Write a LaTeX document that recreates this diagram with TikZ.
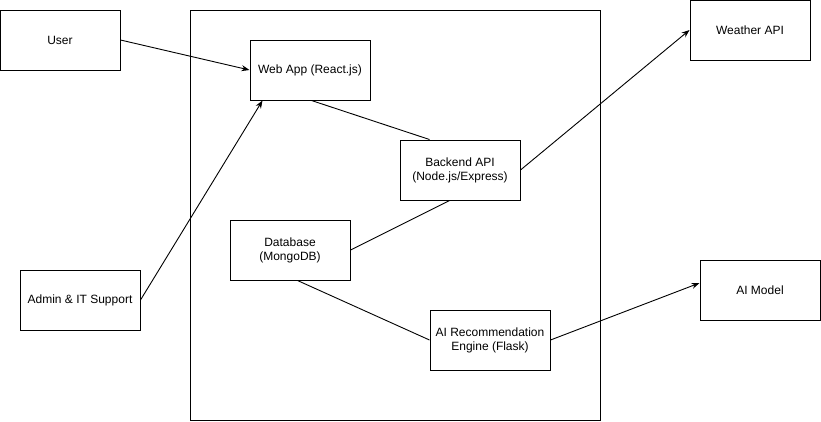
\documentclass[tikz,border=0pt]{standalone}
\usepackage{fontspec}
\setmainfont{Liberation Sans}
\usetikzlibrary{arrows.meta}
\tikzset{
  box/.style={draw=black, line width=1pt, fill=white, minimum width=120pt, minimum height=60pt, inner sep=0pt, align=center, font=\fontsize{12pt}{14pt}\selectfont},
  link/.style={draw=black, line width=0.9pt},
  arr/.style={link, -{Stealth[length=8pt,width=6pt]}}
}
\begin{document}
\begin{tikzpicture}[x=1pt,y=-1pt]
\useasboundingbox (0,0) rectangle (821,421);
\node[draw=black, line width=1pt, minimum width=410pt, minimum height=410pt, inner sep=0pt] (sys) at (395,215) {};
\node[box] (user) at (60,40) {User};
\node[box] (web) at (310,70) {Web App (React.js)};
\node[box] (weather) at (750,30) {Weather API};
\node[box] (back) at (460,170) {Backend API\\(Node.js/Express)};
\node[box] (db) at (290,250) {Database\\(MongoDB)};
\node[box] (admin) at (80,300) {Admin \& IT Support};
\node[box] (airec) at (490,340) {AI Recommendation\\Engine (Flask)};
\node[box] (aimodel) at (760,290) {AI Model};
\draw[arr] (user.east) -- (web.west);
\draw[arr] (admin.east) -- ([xshift=13pt]web.south west);
\draw[link] ([xshift=62pt]web.south west) -- ([xshift=30pt]back.north west);
\draw[arr] (back.east) -- (weather.west);
\draw[link] (db.east) -- ([xshift=50pt]back.south west);
\draw[link] ([xshift=68pt]db.south west) -- (airec.west);
\draw[arr] (airec.east) -- ([yshift=7pt]aimodel.west);
\end{tikzpicture}
\end{document}
